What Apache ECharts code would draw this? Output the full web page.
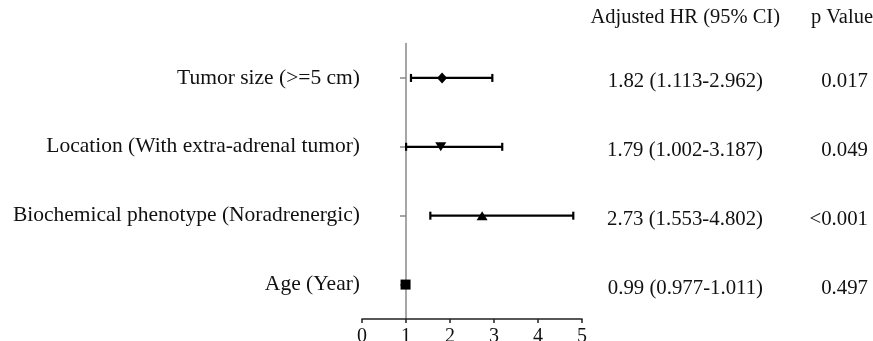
<!DOCTYPE html>
<html>
<head>
<meta charset="utf-8">
<script src="https://cdn.jsdelivr.net/npm/echarts@6/dist/echarts.min.js"></script>
<style>html,body{margin:0;padding:0;background:#fff}#c{width:873px;height:341px}</style>
</head>
<body>
<div id="c"></div>
<script>
const categories = ['Tumor size (>=5 cm)', 'Location (With extra-adrenal tumor)', 'Biochemical phenotype (Noradrenergic)', 'Age (Year)'];
const hr = [1.82, 1.79, 2.73, 0.99];
const lower = [1.113, 1.002, 1.553, 0.977];
const upper = [2.962, 3.187, 4.802, 1.011];
const hrText = ['1.82 (1.113-2.962)', '1.79 (1.002-3.187)', '2.73 (1.553-4.802)', '0.99 (0.977-1.011)'];
const pText = ['0.017', '0.049', '<0.001', '0.497'];
const symbols = ['diamond', 'triangle', 'triangle', 'rect'];
const symbolRotate = [0, 180, 0, 0];
const symbolSizes = [[10, 11], [11, 9], [11, 9], [10, 10]];
const xTicks = [0, 1, 2, 3, 4, 5];
const headers = ['Adjusted HR (95% CI)', 'p Value'];

const FONT = '"Liberation Serif", "Times New Roman", serif';
const chart = echarts.init(document.getElementById('c'), null, {renderer: 'canvas'});

const rightLabel = (margin) => ({
  margin: margin, align: 'right',
  formatter: (v) => '{a|' + v + '}',
  rich: {a: {color: '#111', fontFamily: FONT, fontSize: 20.8, padding: [8, 0, 0, 0]}}
});

const option = {
  animation: false,
  backgroundColor: '#fff',
  grid: {left: 362, right: 291, top: 43.5, bottom: 22, containLabel: false, outerBoundsMode: 'none'},
  xAxis: {
    type: 'value', min: xTicks[0], max: xTicks[xTicks.length - 1], interval: 1,
    splitLine: {show: false},
    axisLine: {show: true, lineStyle: {color: '#222', width: 1.5}},
    axisTick: {show: true, length: 4, lineStyle: {color: '#222', width: 1.5}},
    axisLabel: {color: '#111', fontFamily: FONT, fontSize: 20, margin: 8}
  },
  yAxis: [
    {
      type: 'category', data: categories, inverse: true, offset: -44,
      axisLine: {show: true, lineStyle: {color: '#888', width: 1.5}},
      axisTick: {show: true, alignWithLabel: true, length: 6, lineStyle: {color: '#888', width: 1.5}},
      axisLabel: {color: '#111', fontFamily: FONT, fontSize: 21.5, margin: 46, padding: [3, 0, 0, 0]}
    },
    {
      type: 'category', data: hrText, inverse: true, position: 'right',
      axisLine: {show: false}, axisTick: {show: false},
      axisLabel: rightLabel(181)
    },
    {
      type: 'category', data: pText, inverse: true, position: 'right',
      axisLine: {show: false}, axisTick: {show: false},
      axisLabel: rightLabel(286)
    }
  ],
  graphic: [
    {type: 'text', right: 873 - 780, top: 7, style: {text: headers[0], font: '20.5px ' + FONT, fill: '#111'}},
    {type: 'text', right: 0, top: 7, style: {text: headers[1], font: '20.5px ' + FONT, fill: '#111'}}
  ],
  series: [
    {
      type: 'custom',
      renderItem: function (params, api) {
        const y = api.value(0);
        const p1 = api.coord([api.value(1), y]);
        const p2 = api.coord([api.value(2), y]);
        const h = 4;
        const st = {stroke: '#000', lineWidth: 2.2};
        return {
          type: 'group',
          children: [
            {type: 'line', shape: {x1: p1[0], y1: p1[1], x2: p2[0], y2: p2[1]}, style: st},
            {type: 'line', shape: {x1: p1[0], y1: p1[1] - h, x2: p1[0], y2: p1[1] + h}, style: st},
            {type: 'line', shape: {x1: p2[0], y1: p2[1] - h, x2: p2[0], y2: p2[1] + h}, style: st}
          ]
        };
      },
      encode: {x: [1, 2], y: 0},
      data: categories.map((c, i) => [i, lower[i], upper[i]]),
      z: 2
    },
    {
      type: 'scatter',
      data: categories.map((c, i) => ({
        value: [hr[i], i],
        symbol: symbols[i],
        symbolRotate: symbolRotate[i],
        symbolSize: symbolSizes[i]
      })),
      itemStyle: {color: '#000', opacity: 1},
      z: 3
    }
  ]
};
chart.setOption(option);
</script>
</body>
</html>
